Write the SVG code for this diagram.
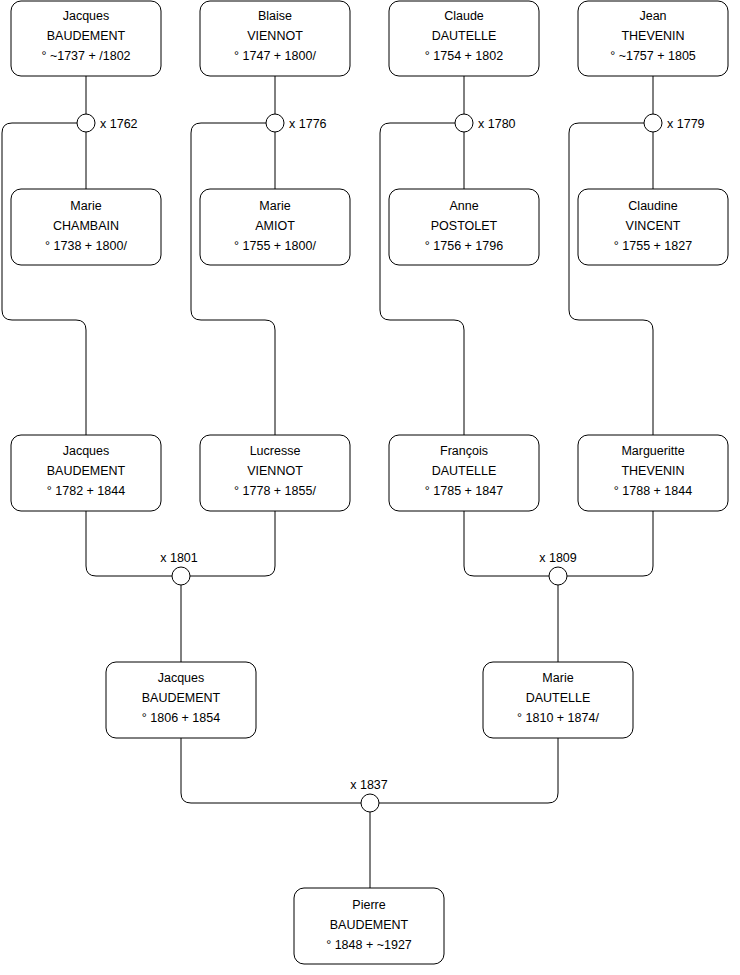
<svg xmlns="http://www.w3.org/2000/svg" width="740" height="975" viewBox="0 0 740 975">
<style>
.n rect{fill:#fff;stroke:#000;stroke-width:1}
.n text,.lbl{font-family:"Liberation Sans",Arial,sans-serif;font-size:12.5px;fill:#000}
.n text{text-anchor:middle}
.c path,.c line{fill:none;stroke:#000;stroke-width:1}
.c circle{fill:#fff;stroke:#000;stroke-width:1}
</style>
<rect width="740" height="975" fill="#fff"/>
<g class="c" id="connectors">
<line x1="86" y1="76" x2="86" y2="189"/>
<line x1="275" y1="76" x2="275" y2="189"/>
<line x1="464" y1="76" x2="464" y2="189"/>
<line x1="653" y1="76" x2="653" y2="189"/>
<path d="M77,123 H12 Q2,123 2,133 V310 Q2,320 12,320 H76 Q86,320 86,330 V435"/>
<path d="M266,123 H201 Q191,123 191,133 V310 Q191,320 201,320 H265 Q275,320 275,330 V435"/>
<path d="M455,123 H390 Q380,123 380,133 V310 Q380,320 390,320 H454 Q464,320 464,330 V435"/>
<path d="M644,123 H579 Q569,123 569,133 V310 Q569,320 579,320 H643 Q653,320 653,330 V435"/>
<circle cx="86" cy="123" r="9"/>
<circle cx="275" cy="123" r="9"/>
<circle cx="464" cy="123" r="9"/>
<circle cx="653" cy="123" r="9"/>
<path d="M86,511 V566 Q86,576 96,576 H172"/>
<path d="M190,576 H265 Q275,576 275,566 V511"/>
<line x1="181" y1="585" x2="181" y2="662"/>
<circle cx="181" cy="576" r="9"/>
<path d="M464,511 V566 Q464,576 474,576 H549"/>
<path d="M567,576 H643 Q653,576 653,566 V511"/>
<line x1="558" y1="585" x2="558" y2="662"/>
<circle cx="558" cy="576" r="9"/>
<path d="M181,738 V793 Q181,803 191,803 H361"/>
<path d="M379,803 H548 Q558,803 558,793 V738"/>
<line x1="370" y1="812" x2="370" y2="888"/>
<circle cx="370" cy="803" r="9"/>
<text class="lbl" x="100" y="128">x 1762</text>
<text class="lbl" x="289" y="128">x 1776</text>
<text class="lbl" x="478" y="128">x 1780</text>
<text class="lbl" x="667" y="128">x 1779</text>
<text class="lbl" x="179" y="562" text-anchor="middle">x 1801</text>
<text class="lbl" x="558" y="562" text-anchor="middle">x 1809</text>
<text class="lbl" x="369" y="789" text-anchor="middle">x 1837</text>
</g>
<g class="n" id="n1"><rect x="11" y="1" width="150" height="75" rx="10"/><text x="86" y="20">Jacques</text><text x="86" y="40">BAUDEMENT</text><text x="86" y="60">° ~1737 + /1802</text></g>
<g class="n" id="n2"><rect x="200" y="1" width="150" height="75" rx="10"/><text x="275" y="20">Blaise</text><text x="275" y="40">VIENNOT</text><text x="275" y="60">° 1747 + 1800/</text></g>
<g class="n" id="n3"><rect x="389" y="1" width="150" height="75" rx="10"/><text x="464" y="20">Claude</text><text x="464" y="40">DAUTELLE</text><text x="464" y="60">° 1754 + 1802</text></g>
<g class="n" id="n4"><rect x="578" y="1" width="150" height="75" rx="10"/><text x="653" y="20">Jean</text><text x="653" y="40">THEVENIN</text><text x="653" y="60">° ~1757 + 1805</text></g>
<g class="n" id="n5"><rect x="11" y="189" width="150" height="76" rx="10"/><text x="86" y="210">Marie</text><text x="86" y="230">CHAMBAIN</text><text x="86" y="250">° 1738 + 1800/</text></g>
<g class="n" id="n6"><rect x="200" y="189" width="150" height="76" rx="10"/><text x="275" y="210">Marie</text><text x="275" y="230">AMIOT</text><text x="275" y="250">° 1755 + 1800/</text></g>
<g class="n" id="n7"><rect x="389" y="189" width="150" height="76" rx="10"/><text x="464" y="210">Anne</text><text x="464" y="230">POSTOLET</text><text x="464" y="250">° 1756 + 1796</text></g>
<g class="n" id="n8"><rect x="578" y="189" width="150" height="76" rx="10"/><text x="653" y="210">Claudine</text><text x="653" y="230">VINCENT</text><text x="653" y="250">° 1755 + 1827</text></g>
<g class="n" id="n9"><rect x="11" y="435" width="150" height="76" rx="10"/><text x="86" y="455">Jacques</text><text x="86" y="475">BAUDEMENT</text><text x="86" y="495">° 1782 + 1844</text></g>
<g class="n" id="n10"><rect x="200" y="435" width="150" height="76" rx="10"/><text x="275" y="455">Lucresse</text><text x="275" y="475">VIENNOT</text><text x="275" y="495">° 1778 + 1855/</text></g>
<g class="n" id="n11"><rect x="389" y="435" width="150" height="76" rx="10"/><text x="464" y="455">François</text><text x="464" y="475">DAUTELLE</text><text x="464" y="495">° 1785 + 1847</text></g>
<g class="n" id="n12"><rect x="578" y="435" width="150" height="76" rx="10"/><text x="653" y="455">Margueritte</text><text x="653" y="475">THEVENIN</text><text x="653" y="495">° 1788 + 1844</text></g>
<g class="n" id="n13"><rect x="106" y="662" width="150" height="76" rx="10"/><text x="181" y="682">Jacques</text><text x="181" y="702">BAUDEMENT</text><text x="181" y="722">° 1806 + 1854</text></g>
<g class="n" id="n14"><rect x="483" y="662" width="150" height="76" rx="10"/><text x="558" y="682">Marie</text><text x="558" y="702">DAUTELLE</text><text x="558" y="722">° 1810 + 1874/</text></g>
<g class="n" id="n15"><rect x="294" y="888" width="150" height="76" rx="10"/><text x="369" y="909">Pierre</text><text x="369" y="929">BAUDEMENT</text><text x="369" y="949">° 1848 + ~1927</text></g>
</svg>
